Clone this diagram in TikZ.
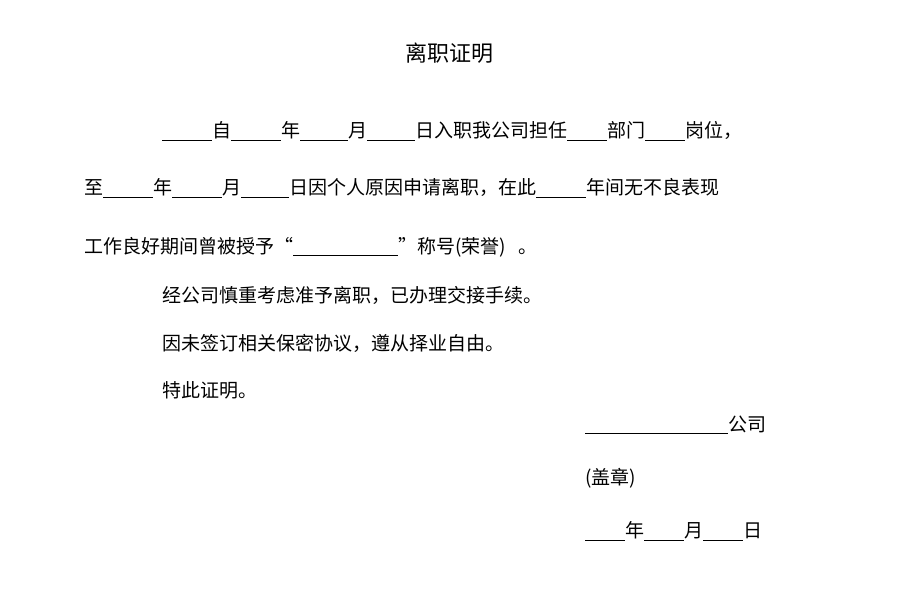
\documentclass[tikz,border=0pt]{standalone}
\usepackage{fontspec}
\setmainfont{Noto Sans CJK SC}
\newcommand{\blank}[1]{\rule[-2.5pt]{#1pt}{0.7pt}}
\begin{document}
\begin{tikzpicture}[x=1pt,y=-1pt,
  txt/.style={anchor=west,inner sep=0pt,font=\fontsize{19}{19}\selectfont},
  ttl/.style={inner sep=0pt,font=\fontsize{22}{22}\selectfont}]
\useasboundingbox (0,0) rectangle (900,600);
\fill[white] (0,0) rectangle (900,600);
\node[ttl] (title) at (449,53) {离职证明};
\node[txt] (l1) at (162,131) {\blank{50}自\blank{50}年\blank{48}月\blank{48}日入职我公司担任\blank{40}部门\blank{40}岗位，};
\node[txt] (l2) at (84,188) {至\blank{50}年\blank{50}月\blank{48}日因个人原因申请离职，在此\blank{50}年间无不良表现};
\node[txt] (l3) at (84,247) {工作良好期间曾被授予“\blank{105}”称号(荣誉)\hspace{12pt}。};
\node[txt] (l4) at (162,295) {经公司慎重考虑准予离职，已办理交接手续。};
\node[txt] (l5) at (162,343) {因未签订相关保密协议，遵从择业自由。};
\node[txt] (l6) at (162,390) {特此证明。};
\node[txt] (s1) at (585,425) {\blank{143}公司};
\node[txt] (s2) at (585,478) {(盖章)};
\node[txt] (s3) at (585,531) {\blank{40}年\blank{40}月\blank{40}日};
\end{tikzpicture}
\end{document}
